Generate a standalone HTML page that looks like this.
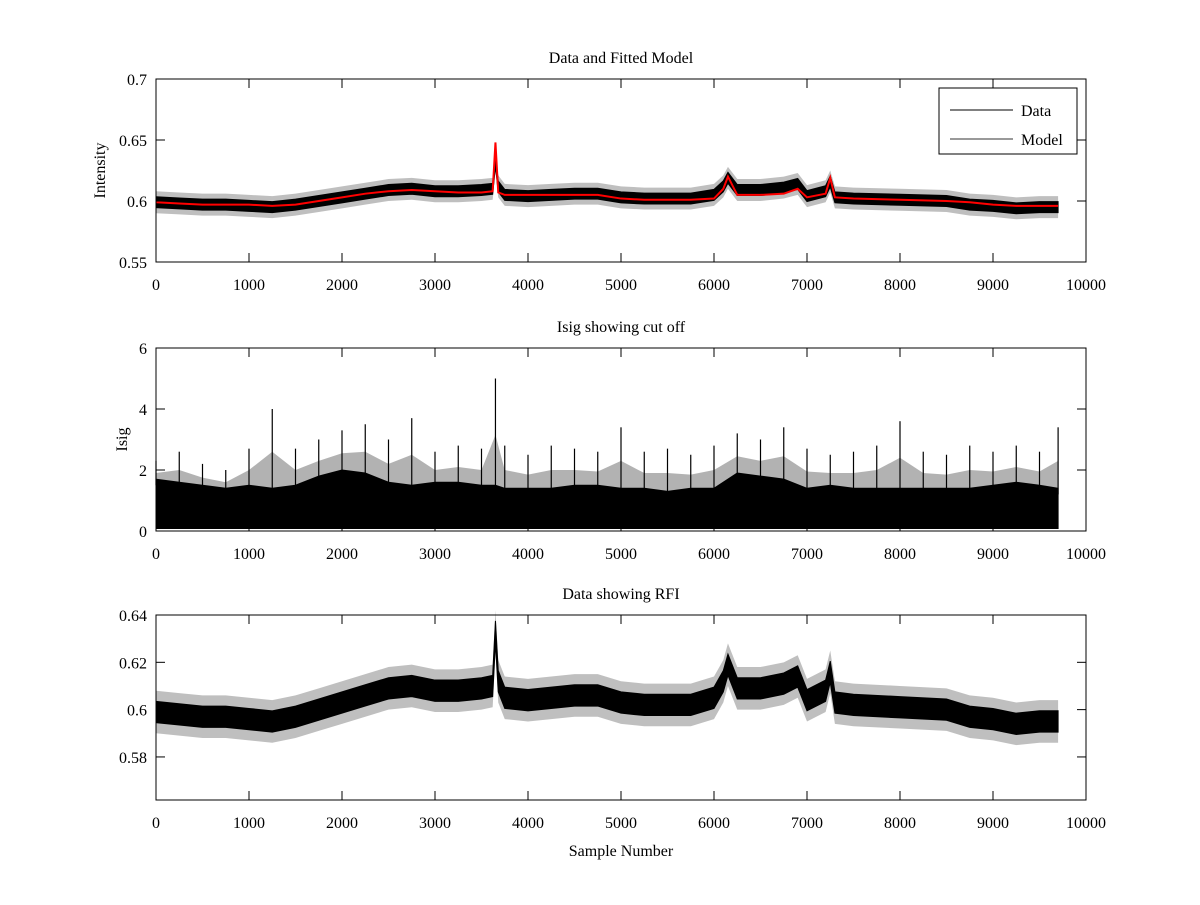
<!DOCTYPE html>
<html><head><meta charset="utf-8"><style>
html,body{margin:0;padding:0;background:#fff;}
svg text{font-family:"Liberation Serif",serif;font-size:16px;fill:#000;}
</style></head><body>
<svg id="fig" width="1200" height="900" viewBox="0 0 1200 900" xmlns="http://www.w3.org/2000/svg"></svg>
<script>
// ---- data ----
const sampleX = [0,250,500,750,1000,1250,1500,1750,2000,2250,2500,2750,3000,3250,3500,3620,3650,3680,3750,4000,4250,4500,4750,5000,5250,5500,5750,6000,6100,6150,6250,6500,6750,6900,7000,7200,7250,7300,7500,8000,8500,8750,9000,9250,9500,9700];
const intensity = [0.599,0.598,0.597,0.597,0.596,0.595,0.597,0.600,0.603,0.606,0.609,0.610,0.608,0.608,0.609,0.610,0.633,0.612,0.605,0.604,0.605,0.606,0.606,0.603,0.602,0.602,0.602,0.605,0.612,0.619,0.609,0.609,0.611,0.614,0.604,0.608,0.616,0.603,0.602,0.601,0.600,0.597,0.596,0.594,0.595,0.595];
const modelValues = [0.599,0.598,0.597,0.597,0.597,0.596,0.597,0.600,0.603,0.606,0.608,0.609,0.608,0.607,0.607,0.608,0.648,0.607,0.605,0.605,0.605,0.605,0.605,0.602,0.601,0.601,0.601,0.602,0.610,0.620,0.605,0.605,0.606,0.610,0.603,0.606,0.619,0.603,0.602,0.601,0.600,0.599,0.597,0.596,0.596,0.596];
const isigX = [0,250,500,750,1000,1250,1500,1750,2000,2250,2500,2750,3000,3250,3500,3650,3750,4000,4250,4500,4750,5000,5250,5500,5750,6000,6250,6500,6750,7000,7250,7500,7750,8000,8250,8500,8750,9000,9250,9500,9700];
const isigDense = [1.5,1.4,1.3,1.2,1.3,1.2,1.3,1.6,1.8,1.7,1.4,1.3,1.4,1.4,1.3,1.3,1.2,1.2,1.2,1.3,1.3,1.2,1.2,1.1,1.2,1.2,1.7,1.6,1.5,1.2,1.3,1.2,1.2,1.2,1.2,1.2,1.2,1.3,1.4,1.3,1.2];
const isigPeak = [2.3,2.6,2.2,2.0,2.7,4.0,2.7,3.0,3.3,3.5,3.0,3.7,2.6,2.8,2.7,5.0,2.8,2.5,2.8,2.7,2.6,3.4,2.6,2.7,2.5,2.8,3.2,3.0,3.4,2.7,2.5,2.6,2.8,3.6,2.6,2.5,2.8,2.6,2.8,2.6,3.4];
const xTicks = [0,1000,2000,3000,4000,5000,6000,7000,8000,9000,10000];
const yTicks1 = [0.55,0.6,0.65,0.7];
const yTicks2 = [0,2,4,6];
const yTicks3 = [0.58,0.6,0.62,0.64];

const NS='http://www.w3.org/2000/svg';
const svg=document.getElementById('fig');
function mk(tag,attrs,parent){const e=document.createElementNS(NS,tag);for(const k in attrs)e.setAttribute(k,attrs[k]);(parent||svg).appendChild(e);return e;}
const X0=156,X1=1086;
const xs=v=>X0+(v/10000)*(X1-X0);
function yScale(top,bot,lo,hi){return v=>bot-(v-lo)/(hi-lo)*(bot-top);}
const ys1=yScale(79,262,0.55,0.70);
const ys2=yScale(348,531,0,6);
const ys3=yScale(615,800,0.5618,0.64);

function axes(name,top,bot,ys,yt,fmt,title,ylabel,ylx){
  const g=mk('g',{});
  
  
  xTicks.forEach(t=>{const x=xs(t);
    mk('line',{x1:x,x2:x,y1:bot,y2:bot-9,stroke:'#000'},g);
    mk('line',{x1:x,x2:x,y1:top,y2:top+9,stroke:'#000'},g);
    const tx=mk('text',{x:x,y:bot+28,'text-anchor':'middle'},g);tx.textContent=t;
    
    
  });
  yt.forEach(t=>{const y=ys(t);
    mk('line',{x1:X0,x2:X0+9,y1:y,y2:y,stroke:'#000'},g);
    mk('line',{x1:X1,x2:X1-9,y1:y,y2:y,stroke:'#000'},g);
    const tx=mk('text',{x:X0-9,y:y+6,'text-anchor':'end'},g);tx.textContent=fmt(t);
    
    
  });
  const tt=mk('text',{x:621,y:top-16,'text-anchor':'middle'},g);tt.textContent=title;
  
  
  if(ylabel){
  const yl=mk('text',{x:0,y:0,'text-anchor':'middle',transform:`translate(${ylx},${(top+bot)/2}) rotate(-90)`},g);yl.textContent=ylabel;
  
  }
}
function frame(top,bot){const r=mk('rect',{x:X0,y:top,width:X1-X0,height:bot-top,fill:'none',stroke:'#000'});
  
  }

function band(ys,hw,name){
  let up2=sampleX.map((s,i)=>xs(s)+','+ys(intensity[i]+hw*2)).join(' ');
  let dn2=sampleX.map((s,i)=>xs(s)+','+ys(intensity[i]-hw*2)).reverse().join(' ');
  const h=mk('polygon',{points:up2+' '+dn2,fill:'#000','fill-opacity':0.25,stroke:'none'});
  
  
  let up=sampleX.map((s,i)=>xs(s)+','+ys(intensity[i]+hw)).join(' ');
  let dn=sampleX.map((s,i)=>xs(s)+','+ys(intensity[i]-hw)).reverse().join(' ');
  const p=mk('polygon',{points:up+' '+dn,fill:'#000',stroke:'#000','stroke-width':1});
  
  
}
const fmtG=t=>String(+t.toFixed(3));

// panel 1
band(ys1,0.0045,'data-series');
const mp=mk('polyline',{points:sampleX.map((s,i)=>xs(s)+','+ys1(modelValues[i])).join(' '),fill:'none',stroke:'#f00','stroke-width':2});


frame(79,262);
axes('top-axes',79,262,ys1,yTicks1,fmtG,'Data and Fitted Model','Intensity',105);

// panel 2
{
  let up2=isigX.map((s,i)=>xs(s)+','+ys2((isigDense[i]+isigPeak[i])/2)).join(' ');
  const h=mk('polygon',{points:xs(0)+','+ys2(0.08)+' '+up2+' '+xs(9700)+','+ys2(0.08),fill:'#000','fill-opacity':0.3,stroke:'none'});
  
  
  let up=isigX.map((s,i)=>xs(s)+','+ys2(isigDense[i]+0.2)).join(' ');
  const p=mk('polygon',{points:xs(0)+','+ys2(0.08)+' '+up+' '+xs(9700)+','+ys2(0.08),fill:'#000',stroke:'#000'});
  
  
  isigX.forEach((s,i)=>{
    const l=mk('line',{x1:xs(s),x2:xs(s),y1:ys2(isigDense[i]),y2:ys2(isigPeak[i]),stroke:'#000','stroke-width':1.2});
    
    
  });
}
frame(348,531);
axes('middle-axes',348,531,ys2,yTicks2,t=>String(t),'Isig showing cut off','Isig',127);

// panel 3
band(ys3,0.0045,'rfi-data-series');
frame(615,800);
axes('bottom-axes',615,800,ys3,yTicks3,fmtG,'Data showing RFI','',0);
const xl=mk('text',{x:621,y:856,'text-anchor':'middle'});xl.textContent='Sample Number';



// legend
const lg=mk('g',{});


mk('rect',{x:939,y:88,width:138,height:66,fill:'#fff',stroke:'#000'},lg);
mk('line',{x1:950,x2:1013,y1:110,y2:110,stroke:'#000'},lg);
const t1=mk('text',{x:1021,y:116},lg);t1.textContent='Data';


mk('line',{x1:950,x2:1013,y1:139,y2:139,stroke:'#333'},lg);
const t2=mk('text',{x:1021,y:145},lg);t2.textContent='Model';


</script>
</body></html>
